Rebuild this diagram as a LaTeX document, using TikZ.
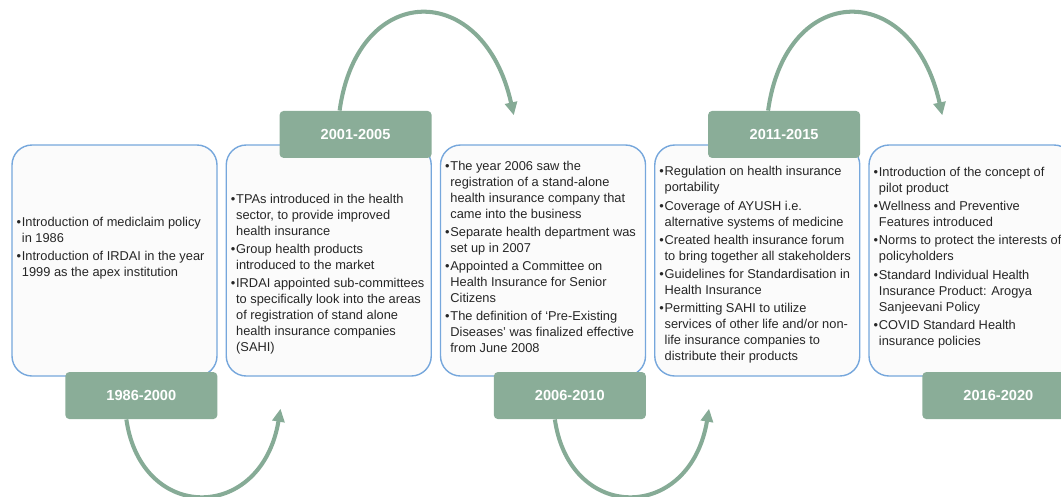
\documentclass[tikz,border=0pt]{standalone}
\usepackage{fontspec}
\setmainfont{Liberation Sans}
\usetikzlibrary{arrows.meta, positioning}
\definecolor{labgreen}{RGB}{138,173,152}
\definecolor{arcgreen}{RGB}{134,171,150}
\definecolor{boxblue}{RGB}{118,167,220}
\definecolor{boxfill}{RGB}{251,251,251}
\definecolor{txtgrey}{RGB}{38,38,38}
\newcommand{\bul}{\makebox[3pt][l]{\textbullet}}
\newcommand{\cnt}{\makebox[3pt]{}}
\tikzstyle{card} = [rectangle, draw=boxblue, fill=boxfill, line width=0.8pt, rounded corners=0.4cm, minimum width=4.1cm, minimum height=4.62cm]

\begin{document}
\begin{tikzpicture}[
        period/.style={rectangle, fill=labgreen, rounded corners=0.08cm,
                       minimum width=3.04cm, minimum height=0.94cm,
                       text=white, font=\fontsize{8.3}{10}\bfseries},
        txt/.style={align=left, inner sep=0pt, text=txtgrey,
                    font=\fontsize{7.3}{9.1}\selectfont},
        arc/.style={-{Triangle[length=0.26cm, width=0.24cm]}, arcgreen, line width=2.3pt}
    ]
        \useasboundingbox (0,0) rectangle (21.22,-9.92);
        \clip (0,0) rectangle (21.22,-9.92);

        % Content boxes
        \node[card] (box1) at (2.29,-5.21) {};
        \node[card] (box2) at (6.575,-5.21) {};
        \node[card] (box3) at (10.86,-5.21) {};
        \node[card] (box4) at (15.145,-5.21) {};
        \node[card] (box5) at (19.43,-5.21) {};

        % Period labels
        \node[period, anchor=north east] (lab1) at ([yshift=0.1cm]box1.south east) {1986-2000};
        \node[period, anchor=south east] (lab2) at ([yshift=-0.28cm]box2.north east) {2001-2005};
        \node[period, anchor=north east] (lab3) at ([yshift=0.1cm]box3.south east) {2006-2010};
        \node[period, anchor=south east] (lab4) at ([yshift=-0.28cm]box4.north east) {2011-2015};
        \node[period, anchor=north east] (lab5) at ([yshift=0.1cm]box5.south east) {2016-2020};

        % Texts
        \node[txt, anchor=west] (txt1) at ([xshift=0.1cm, yshift=0.25cm]box1.west) {%
            \bul Introduction of mediclaim policy\\
            \cnt in 1986\\[1.3pt]
            \bul Introduction of IRDAI in the year\\
            \cnt 1999 as the apex institution};
        \node[txt, anchor=west] (txt2) at ([xshift=0.1cm, yshift=-0.27cm]box2.west) {%
            \bul TPAs introduced in the health\\
            \cnt sector, to provide improved\\
            \cnt health insurance\\[1.3pt]
            \bul Group health products\\
            \cnt introduced to the market\\[1.3pt]
            \bul IRDAI appointed sub-committees\\
            \cnt to specifically look into the areas\\
            \cnt of registration of stand alone\\
            \cnt health insurance companies\\
            \cnt (SAHI)};
        \node[txt, anchor=west] (txt3) at ([xshift=0.1cm, yshift=0.07cm]box3.west) {%
            \bul The year 2006 saw the\\
            \cnt registration of a stand-alone\\
            \cnt health insurance company that\\
            \cnt came into the business\\[1.3pt]
            \bul Separate health department was\\
            \cnt set up in 2007\\[1.3pt]
            \bul Appointed a Committee on\\
            \cnt Health Insurance for Senior\\
            \cnt Citizens\\[1.3pt]
            \bul The definition of ‘Pre-Existing\\
            \cnt Diseases’ was finalized effective\\
            \cnt from June 2008};
        \node[txt, anchor=west] (txt4) at ([xshift=0.1cm, yshift=-0.09cm]box4.west) {%
            \bul Regulation on health insurance\\
            \cnt portability\\[1.3pt]
            \bul Coverage of AYUSH i.e.\\
            \cnt alternative systems of medicine\\[1.3pt]
            \bul Created health insurance forum\\
            \cnt to bring together all stakeholders\\[1.3pt]
            \bul Guidelines for Standardisation in\\
            \cnt Health Insurance\\[1.3pt]
            \bul Permitting SAHI to utilize\\
            \cnt services of other life and/or non-\\
            \cnt life insurance companies to\\
            \cnt distribute their products};
        \node[txt, anchor=west] (txt5) at ([xshift=0.1cm, yshift=0.06cm]box5.west) {%
            \bul Introduction of the concept of\\
            \cnt pilot product\\[1.3pt]
            \bul Wellness and Preventive\\
            \cnt Features introduced\\[1.3pt]
            \bul Norms to protect the interests of\\
            \cnt policyholders\\[1.3pt]
            \bul Standard Individual Health\\
            \cnt Insurance Product: Arogya\\
            \cnt Sanjeevani Policy\\[1.3pt]
            \bul COVID Standard Health\\
            \cnt insurance policies};

        % Arrow ends
        \coordinate (tip1) at ([shift={(1.1,-0.64)}]box2.south west);
        \coordinate (tip2) at ([shift={(1.48,0.58)}]box3.north west);
        \coordinate (tip3) at ([shift={(1.1,-0.64)}]box4.south west);
        \coordinate (tip4) at ([shift={(1.48,0.58)}]box5.north west);

        % Curved arrows
        \draw[arc] ([xshift=-0.3cm]lab1.south) .. controls +(0.3,-2.08) and +(-0.38,-2.28) .. (tip1);
        \draw[arc] ([xshift=-0.32cm]lab2.north) .. controls +(0.36,2.6) and +(-0.6,2.72) .. (tip2);
        \draw[arc] ([xshift=-0.3cm]lab3.south) .. controls +(0.3,-2.08) and +(-0.38,-2.28) .. (tip3);
        \draw[arc] ([xshift=-0.32cm]lab4.north) .. controls +(0.36,2.6) and +(-0.6,2.72) .. (tip4);
    \end{tikzpicture}
\end{document}
